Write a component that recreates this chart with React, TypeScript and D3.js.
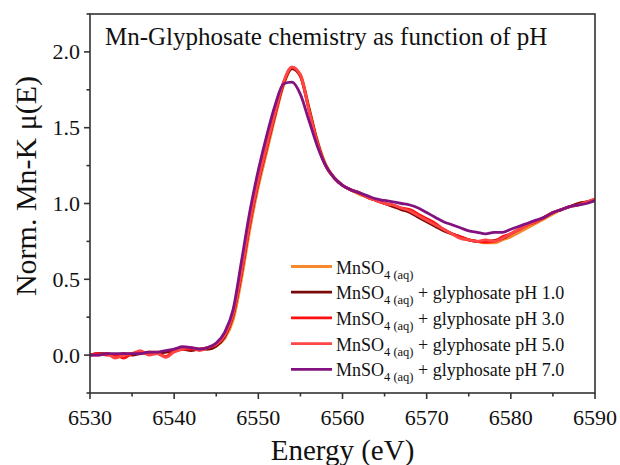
import React from "react";
import * as d3 from "d3";

const energies = [
  6530, 6531, 6532, 6533, 6534, 6535, 6536, 6537, 6538, 6539,
  6540, 6541, 6542, 6543, 6544, 6545, 6546, 6547, 6548, 6549,
  6550, 6551, 6552, 6553, 6554, 6555, 6556, 6557, 6558, 6559,
  6560, 6561, 6562, 6563, 6564, 6565, 6566, 6567, 6568, 6569,
  6570, 6571, 6572, 6573, 6574, 6575, 6576, 6577, 6578, 6579,
  6580, 6581, 6582, 6583, 6584, 6585, 6586, 6587, 6588, 6589, 6590,
];

const mnso4 = [
  0.0, 0.01, 0.01, 0.0, 0.01, 0.01, 0.01, 0.02, 0.02, 0.02,
  0.03, 0.04, 0.04, 0.04, 0.04, 0.06, 0.11, 0.23, 0.5, 0.83,
  1.11, 1.34, 1.57, 1.78, 1.89, 1.85, 1.64, 1.42, 1.26, 1.17,
  1.12, 1.09, 1.06, 1.04, 1.02, 1.0, 0.98, 0.97, 0.95, 0.92,
  0.89, 0.86, 0.83, 0.8, 0.78, 0.76, 0.75, 0.74, 0.74, 0.76,
  0.78, 0.81, 0.84, 0.87, 0.9, 0.93, 0.96, 0.98, 1.0, 1.01, 1.02,
];

const ph1 = [
  0.0, 0.01, 0.01, 0.0, 0.01, 0.0, 0.01, 0.02, 0.01, 0.02,
  0.03, 0.04, 0.03, 0.04, 0.04, 0.06, 0.12, 0.26, 0.54, 0.87,
  1.14, 1.37, 1.59, 1.79, 1.89, 1.84, 1.63, 1.41, 1.25, 1.17,
  1.12, 1.09, 1.07, 1.04, 1.02, 1.0, 0.98, 0.96, 0.94, 0.91,
  0.88, 0.85, 0.82, 0.8, 0.78, 0.76, 0.75, 0.75, 0.755, 0.77,
  0.8, 0.83, 0.86, 0.88, 0.91, 0.94, 0.96, 0.98, 1.0, 1.01, 1.02,
];

const ph3 = [
  0.0, 0.01, 0.0, 0.0, -0.02, 0.01, 0.02, 0.01, 0.01, -0.01,
  0.03, 0.04, 0.04, 0.04, 0.05, 0.07, 0.13, 0.27, 0.55, 0.88,
  1.15, 1.38, 1.6, 1.8, 1.9, 1.84, 1.62, 1.4, 1.25, 1.17,
  1.12, 1.09, 1.07, 1.04, 1.02, 1.0, 0.99, 0.97, 0.96, 0.93,
  0.9, 0.87, 0.83, 0.8, 0.78, 0.76, 0.75, 0.745, 0.75, 0.78,
  0.8, 0.83, 0.86, 0.88, 0.91, 0.94, 0.96, 0.98, 0.99, 1.01, 1.03,
];

const ph5 = [
  0.0, 0.0, 0.01, -0.02, 0.0, 0.01, 0.03, 0.0, 0.01, -0.015,
  0.02, 0.04, 0.05, 0.03, 0.05, 0.07, 0.13, 0.27, 0.55, 0.88,
  1.15, 1.38, 1.6, 1.8, 1.9, 1.85, 1.62, 1.4, 1.25, 1.17,
  1.12, 1.09, 1.07, 1.04, 1.02, 1.0, 0.99, 0.97, 0.95, 0.92,
  0.89, 0.86, 0.83, 0.8, 0.77, 0.76, 0.75, 0.76, 0.75, 0.77,
  0.8, 0.83, 0.86, 0.88, 0.91, 0.94, 0.96, 0.98, 0.99, 1.01, 1.03,
];

const ph7 = [
  0.0, 0.0, 0.01, 0.01, 0.01, 0.01, 0.01, 0.02, 0.02, 0.03,
  0.04, 0.055, 0.05, 0.04, 0.05, 0.08, 0.15, 0.3, 0.62, 0.95,
  1.22, 1.45, 1.65, 1.79, 1.8, 1.72, 1.55, 1.38, 1.25, 1.17,
  1.12, 1.09, 1.07, 1.05, 1.03, 1.02, 1.01, 1.0, 0.99, 0.97,
  0.94, 0.91, 0.88, 0.86, 0.84, 0.82, 0.81, 0.8, 0.81, 0.81,
  0.83, 0.85, 0.87, 0.89, 0.91, 0.94, 0.96, 0.98, 0.99, 1.0, 1.02,
];

const seriesSuffixes = ["", " + glyphosate pH 1.0", " + glyphosate pH 3.0", " + glyphosate pH 5.0", " + glyphosate pH 7.0"];
const seriesColors = ["#F8882C", "#7A0A0A", "#FF1010", "#FF4545", "#82127F"];
const seriesValues = [mnso4, ph1, ph3, ph5, ph7];

const xMajorTicks = [6530, 6540, 6550, 6560, 6570, 6580, 6590];
const xMinorTicks = [6535, 6545, 6555, 6565, 6575, 6585];
const yMajorTicks = [0, 0.5, 1.0, 1.5, 2.0];
const yMinorTicks = [-0.25, 0.25, 0.75, 1.25, 1.75, 2.25];

const titleText = "Mn-Glyphosate chemistry as function of pH";
const xTitle = "Energy (eV)";
const yTitle = "Norm. Mn-K μ(E)";

const W = 620;
const H = 465;
const L = 90, R = 595, T = 14, B = 393;
const FONT = "'Liberation Serif', 'Times New Roman', serif";
const AX = "#333";

export default function App() {
  const x = d3.scaleLinear().domain([6530, 6590]).range([L, R]);
  const y = d3.scaleLinear().domain([-0.25, 2.25]).range([B, T]);
  const line = d3
    .line<number>()
    .x((_, i) => x(energies[i]))
    .y((d) => y(d))
    .curve(d3.curveMonotoneX);

  const legX = 291, legX2 = 332, legTextX = 336, legY0 = 266.5, legDy = 25.7;

  return (
    <svg
      width={W}
      height={H}
      style={{ position: "absolute", left: 0, top: 0, background: "#fff" }}
      fontFamily={FONT}
    >
      <defs>
        <clipPath id="plotclip">
          <rect x={L} y={T} width={R - L} height={B - T} />
        </clipPath>
      </defs>
      <rect x={0} y={0} width={W} height={H} fill="#fff" />
      <g clipPath="url(#plotclip)">
        {seriesValues.map((vals, i) => (
          <path
            key={i}
            d={line(vals) || ""}
            fill="none"
            stroke={seriesColors[i]}
            strokeWidth={2.8}
            strokeLinejoin="round"
            strokeLinecap="round"
          />
        ))}
      </g>
      {/* frame */}
      <rect x={L} y={T} width={R - L} height={B - T} fill="none" stroke={AX} strokeWidth={1.6} />
      {/* x ticks */}
      {xMajorTicks.map((t) => (
        <g key={"xm" + t}>
          <line x1={x(t)} x2={x(t)} y1={B} y2={B + 6} stroke={AX} strokeWidth={1.6} />
          <text x={x(t)} y={425} textAnchor="middle" fontSize={22} fill="#111">
            {t}
          </text>
        </g>
      ))}
      {xMinorTicks.map((t) => (
        <line key={"xn" + t} x1={x(t)} x2={x(t)} y1={B} y2={B + 3.5} stroke={AX} strokeWidth={1.6} />
      ))}
      {/* y ticks */}
      {yMajorTicks.map((t) => (
        <g key={"ym" + t}>
          <line x1={L - 6} x2={L} y1={y(t)} y2={y(t)} stroke={AX} strokeWidth={1.6} />
          <text x={80} y={y(t) + 7.5} textAnchor="end" fontSize={22} fill="#111">
            {t.toFixed(1)}
          </text>
        </g>
      ))}
      {yMinorTicks.map((t) => (
        <line key={"yn" + t} x1={L - 3.5} x2={L} y1={y(t)} y2={y(t)} stroke={AX} strokeWidth={1.6} />
      ))}
      {/* titles */}
      <text x={105} y={45} fontSize={25} fill="#111">
        {titleText}
      </text>
      <text x={(L + R) / 2} y={460} textAnchor="middle" fontSize={29} fill="#111">
        {xTitle}
      </text>
      <text
        transform={`translate(36, 186) rotate(-90)`}
        textAnchor="middle"
        fontSize={30}
        fill="#111"
      >
        {yTitle}
      </text>
      {/* legend */}
      {seriesSuffixes.map((s, i) => {
        const ly = legY0 + i * legDy;
        return (
          <g key={"lg" + i}>
            <line x1={legX} x2={legX2} y1={ly} y2={ly} stroke={seriesColors[i]} strokeWidth={2.8} />
            <text x={legTextX} y={ly + 7} fontSize={18} fill="#111">
              MnSO
              <tspan fontSize={12.5} dy={5}>4 (aq)</tspan>
              <tspan dy={-5}>{s}</tspan>
            </text>
          </g>
        );
      })}
    </svg>
  );
}
